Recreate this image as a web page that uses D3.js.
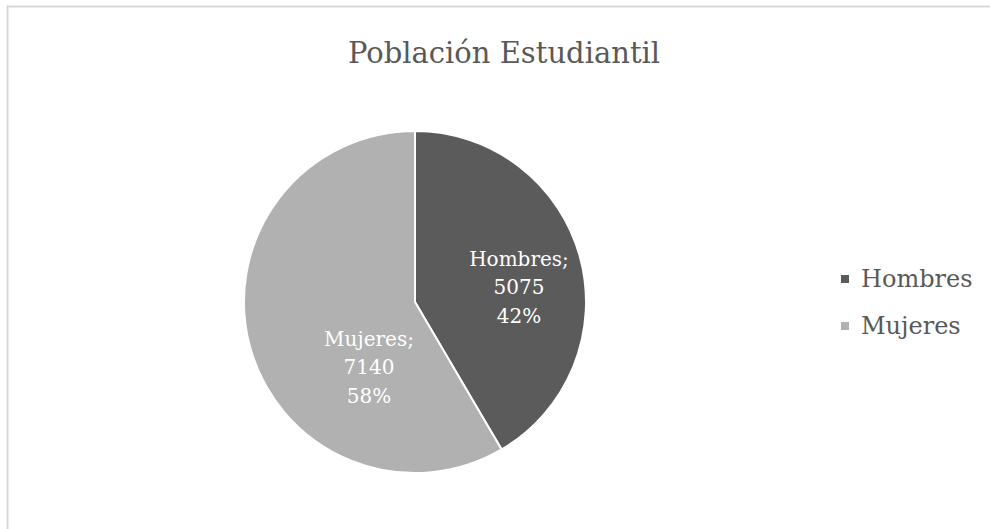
<!DOCTYPE html>
<html>
<head>
<meta charset="utf-8">
<script src="https://cdn.jsdelivr.net/npm/d3@7"></script>
<style>
  body { margin: 0; background: #fff; overflow: hidden; }
  svg { display: block; }
  text { font-family: 'DejaVu Serif', serif; }
</style>
</head>
<body>
<svg id="canvas" width="990" height="529"></svg>
<script>
let categories = ['Hombres', 'Mujeres']
let values = [5075, 7140]
let percents = ['42%', '58%']
let colors = ['#5b5b5b', '#b1b1b1']

let canvas = d3.select('#canvas')

// chart frame (only the top and left edges show in the crop)
canvas.append('path')
      .attr('d', 'M7.5,529V6.5H990')
      .attr('fill', 'none')
      .attr('stroke', '#d9d9d9')
      .attr('stroke-width', 2)

canvas.append('text')
      .attr('x', 504)
      .attr('y', 63)
      .attr('text-anchor', 'middle')
      .attr('font-size', 29)
      .attr('fill', '#595959')
      .text('Población Estudiantil')

let data = categories.map((c, i) => {
  return {name: c, value: values[i], pct: percents[i], color: colors[i]}
})

let radius = 171
let pie = d3.pie().sort(null).value((d) => d['value'])
let arc = d3.arc().innerRadius(0).outerRadius(radius)
let labelArc = d3.arc().innerRadius(radius * 0.6).outerRadius(radius * 0.6)

let g = canvas.append('g')
              .attr('transform', 'translate(415, 302)')

let slices = g.selectAll('g')
              .data(pie(data))
              .enter()
              .append('g')

slices.append('path')
      .attr('d', arc)
      .attr('fill', (d) => d['data']['color'])
      .attr('stroke', '#fff')
      .attr('stroke-width', 2)

// Excel puts the labels a bit off the centroid
let nudge = (d, i) => {
  let c = labelArc.centroid(d)
  if (i === 0) {
    return [c[0] + 5, c[1] + 2]
  }
  return [c[0] + 53, c[1] + 28]
}

let labels = slices.append('text')
                   .attr('text-anchor', 'middle')
                   .attr('font-size', 20)
                   .attr('fill', '#fff')
                   .attr('transform', (d, i) => {
                     let p = nudge(d, i)
                     return 'translate(' + p[0] + ', ' + p[1] + ')'
                   })

labels.append('tspan')
      .attr('x', 0)
      .attr('dy', '-0.55em')
      .text((d) => d['data']['name'] + ';')
labels.append('tspan')
      .attr('x', 0)
      .attr('dy', '1.42em')
      .text((d) => d['data']['value'])
labels.append('tspan')
      .attr('x', 0)
      .attr('dy', '1.42em')
      .text((d) => d['data']['pct'])

// legend
let legend = canvas.selectAll('.legend')
                   .data(data)
                   .enter()
                   .append('g')
                   .attr('class', 'legend')
                   .attr('transform', (d, i) => 'translate(841, ' + (275 + i * 47) + ')')

legend.append('rect')
      .attr('width', 8)
      .attr('height', 8)
      .attr('fill', (d) => d['color'])

legend.append('text')
      .attr('x', 20)
      .attr('y', 12)
      .attr('font-size', 24)
      .attr('fill', '#595959')
      .text((d) => d['name'])
</script>
</body>
</html>
